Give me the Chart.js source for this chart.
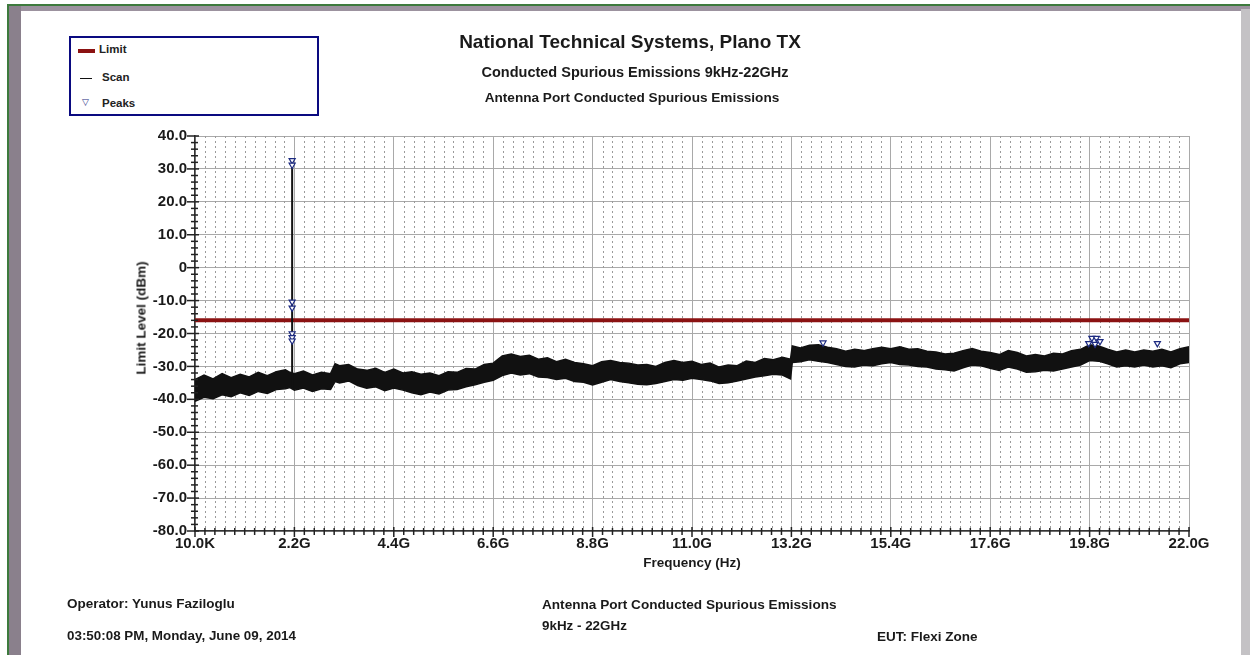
<!DOCTYPE html>
<html>
<head>
<meta charset="utf-8">
<script src="https://cdn.jsdelivr.net/npm/chart.js"></script>
<style>
  body { margin: 0; background: #fff; font-family: "Liberation Sans", Arial, sans-serif; }
  #wrap { position: relative; width: 1250px; height: 655px; overflow: hidden; background: #fff; }
  .abs { position: absolute; white-space: nowrap; font-weight: bold; color: #1a1a1a; }
  #greenTop { position: absolute; left: 7px; top: 4px; width: 1243px; height: 2px; background: #3d7a3d; }
  #greenLeft { position: absolute; left: 7px; top: 4px; width: 2px; height: 651px; background: #3d7a3d; }
  #grayTop { position: absolute; left: 9px; top: 6px; width: 1241px; height: 5px; background: #9c929f; }
  #grayLeft { position: absolute; left: 9px; top: 6px; width: 12px; height: 649px; background: #8a808c; }
  #grayRight { position: absolute; left: 1241px; top: 9px; width: 9px; height: 646px; background: #c4c2c5; }
  #legend { position: absolute; left: 69px; top: 36px; width: 246px; height: 76px; border: 2px solid #0a0a80; background: #fff; }
  #legend .item { position: absolute; left: 31px; font-size: 11.5px; font-weight: bold; color: #222; }
  canvas { position: absolute; left: 0; top: 0; }
</style>
</head>
<body>
<div id="wrap">
  <div id="greenTop"></div><div id="greenLeft"></div>
  <div id="grayTop"></div><div id="grayLeft"></div><div id="grayRight"></div>

  <canvas id="chart" width="1250" height="655"></canvas>

  <div id="legend">
    <div style="position:absolute;left:7px;top:11px;width:17px;height:4px;background:#8b1212;"></div>
    <div class="item" style="top:5px;left:28px;">Limit</div>
    <div style="position:absolute;left:9px;top:40px;width:12px;height:1px;background:#111;"></div>
    <div class="item" style="top:33px;">Scan</div>
    <div style="position:absolute;left:11px;top:59px;font-size:9px;color:#1c2a80;">&#9661;</div>
    <div class="item" style="top:59px;">Peaks</div>
  </div>

  <div class="abs" style="left:430px;top:31px;width:400px;text-align:center;font-size:19px;">National Technical Systems, Plano TX</div>
  <div class="abs" style="left:435px;top:64px;width:400px;text-align:center;font-size:14.5px;">Conducted Spurious Emissions 9kHz-22GHz</div>
  <div class="abs" style="left:432px;top:90px;width:400px;text-align:center;font-size:13.6px;">Antenna Port Conducted Spurious Emissions</div>

  <div class="abs" style="left:141px;top:318px;font-size:13.5px;transform:translate(-50%,-50%) rotate(-90deg);">Limit Level (dBm)</div>

  <div class="abs" style="left:67px;top:596px;font-size:13.5px;">Operator: Yunus Faziloglu</div>
  <div class="abs" style="left:67px;top:628px;font-size:13.4px;">03:50:08 PM, Monday, June 09, 2014</div>
  <div class="abs" style="left:542px;top:597px;font-size:13.6px;">Antenna Port Conducted Spurious Emissions</div>
  <div class="abs" style="left:542px;top:618px;font-size:13.4px;">9kHz - 22GHz</div>
  <div class="abs" style="left:877px;top:629px;font-size:13.5px;">EUT: Flexi Zone</div>
</div>

<script>
// Axis ticks
const xTickLabels = ['10.0K', '2.2G', '4.4G', '6.6G', '8.8G', '11.0G', '13.2G', '15.4G', '17.6G', '19.8G', '22.0G'];
const yTickLabels = ['-80.0', '-70.0', '-60.0', '-50.0', '-40.0', '-30.0', '-20.0', '-10.0', '0', '10.0', '20.0', '30.0', '40.0'];

// Limit line (GHz, dBm)
const limitFreq = [0.00001, 22];
const limitLevel = [-16, -16];

// Scan trace envelope (GHz, dBm)
const scanFreq = [
  0.0, 0.2, 0.4, 0.6, 0.8, 1.0, 1.2, 1.4, 1.6, 1.8,
  2.0, 2.1, 2.2, 2.4, 2.6, 2.8, 3.0, 3.1, 3.2, 3.4,
  3.6, 3.8, 4.0, 4.2, 4.4, 4.6, 4.8, 5.0, 5.2, 5.4,
  5.6, 5.8, 6.0, 6.2, 6.4, 6.6, 6.8, 7.0, 7.2, 7.4,
  7.6, 7.8, 8.0, 8.2, 8.4, 8.6, 8.8, 9.0, 9.2, 9.4,
  9.6, 9.8, 10.0, 10.2, 10.4, 10.6, 10.8, 11.0, 11.2, 11.4,
  11.6, 11.8, 12.0, 12.2, 12.4, 12.6, 12.8, 13.0, 13.18, 13.22,
  13.4, 13.6, 13.8, 14.0, 14.2, 14.4, 14.6, 14.8, 15.0, 15.2,
  15.4, 15.6, 15.8, 16.0, 16.2, 16.4, 16.6, 16.8, 17.0, 17.2,
  17.4, 17.6, 17.8, 18.0, 18.2, 18.4, 18.6, 18.8, 19.0, 19.2,
  19.4, 19.6, 19.8, 20.0, 20.2, 20.4, 20.6, 20.8, 21.0, 21.2,
  21.4, 21.6, 21.8, 22.0
];
const scanHigh = [
  -34.0, -32.6, -33.8, -32.2, -33.4, -32.4, -33.2, -31.8, -32.8, -31.6,
  -31.0, -31.8, -32.2, -31.4, -32.6, -31.8, -32.2, -29.2, -29.8, -29.4,
  -30.8, -31.2, -30.6, -31.8, -30.8, -32.0, -31.6, -32.4, -32.0, -32.8,
  -31.6, -31.8, -30.6, -30.8, -29.4, -29.0, -26.8, -26.2, -27.0, -26.6,
  -27.8, -27.4, -28.6, -27.8, -28.8, -29.2, -29.8, -28.6, -28.2, -28.8,
  -29.0, -29.6, -29.4, -30.0, -28.8, -28.2, -28.8, -28.4, -29.4, -29.0,
  -30.2, -29.6, -29.8, -28.4, -28.8, -27.6, -28.0, -27.2, -27.8, -23.8,
  -24.4, -23.6, -23.4, -24.2, -24.6, -25.4, -24.8, -25.2, -24.6, -24.2,
  -24.6, -24.0, -24.8, -24.6, -25.4, -25.6, -26.2, -26.0, -25.2, -24.6,
  -25.4, -25.8, -26.4, -25.2, -25.8, -26.8, -26.4, -26.8, -26.0, -26.2,
  -25.2, -24.8, -23.4, -23.8, -24.8, -25.6, -25.0, -25.6, -25.0, -25.4,
  -24.8, -25.6, -24.6, -24.0
];
const scanLow = [
  -40.6, -39.4, -39.8, -38.6, -39.2, -38.0, -38.8, -37.6, -38.2, -37.0,
  -36.8, -36.4, -37.2, -36.6, -37.6, -36.8, -37.0, -34.6, -35.0, -34.4,
  -35.8, -36.6, -36.2, -37.4, -36.6, -37.2, -38.0, -38.6, -37.8, -38.4,
  -37.2, -37.0, -36.2, -35.6, -34.8, -34.2, -32.8, -32.0, -32.6, -32.2,
  -33.2, -33.4, -34.0, -33.6, -34.6, -34.8, -35.6, -34.8, -34.0, -34.6,
  -35.0, -35.4, -35.6, -35.2, -34.6, -34.0, -34.2, -33.6, -34.0, -34.4,
  -35.2, -35.0, -34.4, -33.8, -33.2, -32.8, -32.4, -32.6, -33.8, -28.8,
  -28.6, -28.0, -28.4, -28.8, -29.4, -30.0, -30.2, -29.6, -29.8, -29.2,
  -28.8, -29.4, -29.6, -30.0, -30.2, -30.8, -31.0, -31.4, -30.4, -29.6,
  -29.8, -30.6, -31.2, -30.2, -30.8, -31.8, -31.6, -31.2, -31.4, -30.8,
  -30.2, -29.6, -28.2, -28.4, -29.2, -30.2, -29.8, -30.2, -29.6, -30.2,
  -29.8, -30.4, -29.2, -28.8
];

// Spurious spike near 2.15 GHz
const spikeFreq = [2.15, 2.15];
const spikeLevel = [-36.5, 32.6];

// Peak markers
const peakFreq = [2.15, 2.15, 2.15, 2.15, 2.15, 2.15, 2.15, 13.9, 19.78, 19.85, 19.92, 19.95, 20.03, 21.3];
const peakLevel = [32.6, 31.2, -10.4, -12.2, -20.0, -21.2, -22.2, -22.8, -23.0, -21.4, -23.2, -21.4, -22.4, -23.0];

const pts = (xs, ys) => xs.map((x, i) => ({ x: x, y: ys[i] }));

const FONT = '"Liberation Sans", Arial, sans-serif';
const MINOR_X = 0.22;

const ticksAndMinorGrid = {
  id: 'ticksAndMinorGrid',
  beforeDatasetsDraw(chart) {
    const { ctx, chartArea: a, scales: { x } } = chart;
    ctx.save();
    ctx.strokeStyle = '#9a9a9a';
    ctx.lineWidth = 1;
    ctx.setLineDash([2, 3]);
    for (let i = 1; i < 100; i++) {
      if (i % 10 === 0) continue;
      const px = Math.round(x.getPixelForValue(i * MINOR_X)) + 0.5;
      ctx.beginPath();
      ctx.moveTo(px, a.top);
      ctx.lineTo(px, a.bottom);
      ctx.stroke();
    }
    ctx.restore();
  },
  afterDraw(chart) {
    const { ctx, chartArea: a, scales: { x, y } } = chart;
    ctx.save();
    ctx.strokeStyle = '#222';
    ctx.lineWidth = 1.5;
    for (let v = -80; v <= 40; v += 2) {
      const py = y.getPixelForValue(v);
      const major = v % 10 === 0;
      ctx.beginPath();
      ctx.moveTo(a.left - (major ? 8 : 4), py);
      ctx.lineTo(a.left + (major ? 4 : 3), py);
      ctx.stroke();
    }
    for (let i = 0; i <= 100; i++) {
      const px = x.getPixelForValue(i * MINOR_X);
      const major = i % 10 === 0;
      ctx.beginPath();
      ctx.moveTo(px, a.bottom - (major ? 4 : 3));
      ctx.lineTo(px, a.bottom + (major ? 6 : 4));
      ctx.stroke();
    }
    ctx.restore();
  }
};

new Chart(document.getElementById('chart'), {
  type: 'scatter',
  data: {
    datasets: [
      {
        label: 'Peaks',
        data: pts(peakFreq, peakLevel),
        showLine: false,
        pointStyle: 'triangle',
        rotation: 180,
        pointRadius: 3.5,
        borderWidth: 1.2,
        borderColor: '#1c2a80',
        backgroundColor: '#ffffff'
      },
      {
        label: 'Spike',
        data: pts(spikeFreq, spikeLevel),
        showLine: true,
        borderColor: '#111',
        borderWidth: 2,
        pointRadius: 0
      },
      {
        label: 'Scan',
        data: pts(scanFreq, scanHigh),
        showLine: true,
        borderColor: '#111',
        borderWidth: 1.5,
        pointRadius: 0,
        fill: '+1',
        backgroundColor: '#111'
      },
      {
        label: 'Scan low',
        data: pts(scanFreq, scanLow),
        showLine: true,
        borderColor: '#111',
        borderWidth: 1.5,
        pointRadius: 0
      },
      {
        label: 'Limit',
        data: pts(limitFreq, limitLevel),
        showLine: true,
        borderColor: '#8b1212',
        borderWidth: 4,
        pointRadius: 0
      }
    ]
  },
  options: {
    responsive: false,
    animation: false,
    devicePixelRatio: 1,
    layout: { padding: { left: 125, top: 136, right: 61, bottom: 74 } },
    plugins: { legend: { display: false }, tooltip: { enabled: false } },
    scales: {
      x: {
        type: 'linear',
        min: 0,
        max: 22,
        afterFit: (s) => { s.height = 50; },
        afterBuildTicks: (s) => { s.ticks = xTickLabels.map((t, i) => ({ value: i * 2.2 })); },
        ticks: {
          autoSkip: false,
          maxRotation: 0,
          padding: 4,
          color: '#1a1a1a',
          font: { family: FONT, size: 15, weight: 'bold' },
          callback: (v, i) => xTickLabels[i]
        },
        grid: { color: '#a9a9a9', lineWidth: 1, drawTicks: false },
        border: { color: '#333', width: 1.5 },
        title: {
          display: true,
          text: 'Frequency (Hz)',
          color: '#1a1a1a',
          font: { family: FONT, size: 13.5, weight: 'bold' },
          padding: { top: 0, bottom: 10 }
        }
      },
      y: {
        min: -80,
        max: 40,
        afterFit: (s) => { s.width = 70; },
        ticks: {
          stepSize: 10,
          padding: 8,
          color: '#1a1a1a',
          font: { family: FONT, size: 15, weight: 'bold' },
          callback: (v, i) => yTickLabels[i]
        },
        grid: { color: '#a9a9a9', lineWidth: 1, drawTicks: false },
        border: { color: '#333', width: 1.5 }
      }
    }
  },
  plugins: [ticksAndMinorGrid]
});
</script>
</body>
</html>
